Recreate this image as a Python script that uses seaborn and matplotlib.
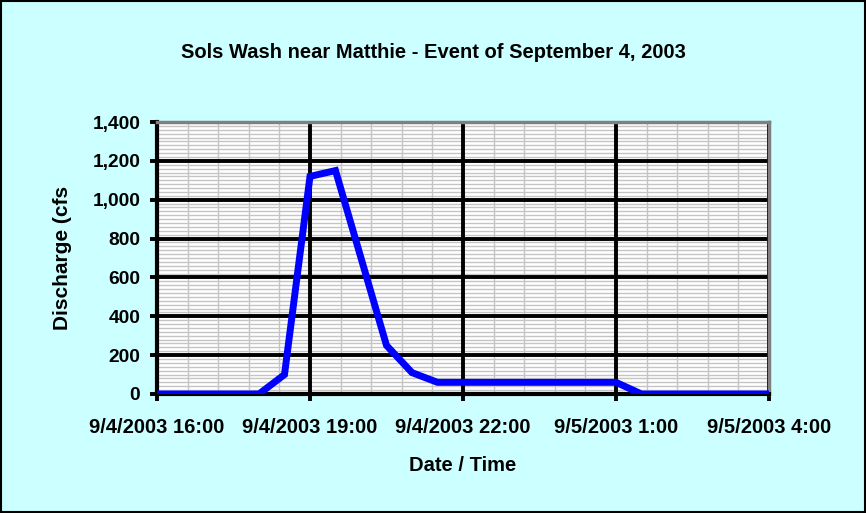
import matplotlib
matplotlib.use("Agg")
import matplotlib.pyplot as plt
import matplotlib.dates as mdates
from matplotlib.ticker import MultipleLocator, FuncFormatter, FixedLocator
from matplotlib.patches import Rectangle
import seaborn as sns
import pandas as pd

times = ["2003-09-04 16:00", "2003-09-04 16:30", "2003-09-04 17:00", "2003-09-04 17:30",
         "2003-09-04 18:00", "2003-09-04 18:30", "2003-09-04 19:00", "2003-09-04 19:30",
         "2003-09-04 20:00", "2003-09-04 20:30", "2003-09-04 21:00", "2003-09-04 21:30",
         "2003-09-04 22:00", "2003-09-04 23:00", "2003-09-05 00:00", "2003-09-05 01:00",
         "2003-09-05 01:30", "2003-09-05 02:00", "2003-09-05 03:00", "2003-09-05 04:00"]
discharge = [0, 0, 0, 0, 0, 100, 1120, 1150, 700, 250, 110, 60,
             60, 60, 60, 60, 0, 0, 0, 0]
x_ticks = ["2003-09-04 16:00", "2003-09-04 19:00", "2003-09-04 22:00",
           "2003-09-05 01:00", "2003-09-05 04:00"]

df = pd.DataFrame({"time": pd.to_datetime(times), "q": discharge})

sns.set_style("white")
plt.rcParams["font.family"] = ["Liberation Sans", "DejaVu Sans"]
plt.rcParams.update({"text.color": "black", "axes.labelcolor": "black",
                     "xtick.color": "black", "ytick.color": "black"})

fig = plt.figure(figsize=(8.66, 5.13), dpi=100)
fig.patch.set_facecolor("#CCFFFF")
fig.patches.append(Rectangle((0.001, 0.001), 0.998, 0.998, transform=fig.transFigure,
                             fill=False, edgecolor="black", linewidth=1.5))
rect = [157/866, 1-394/513, (769-157)/866, (394-122)/513]

xt = pd.to_datetime(x_ticks)
xlim = (mdates.date2num(xt[0]), mdates.date2num(xt[-1]))
minor_x = [mdates.date2num(t) for t in pd.date_range(xt[0], xt[-1], freq="36min")]

# background axes: white face + light minor grid
bg = fig.add_axes(rect, zorder=0)
bg.set_facecolor("white")
bg.set_xlim(*xlim)
bg.set_ylim(0, 1400)
bg.xaxis.set_major_locator(FixedLocator(minor_x))
bg.yaxis.set_major_locator(MultipleLocator(20))
bg.grid(True, color="#C4C4C4", linewidth=1)
bg.tick_params(which="both", length=0, labelbottom=False, labelleft=False)
for s in bg.spines.values():
    s.set_visible(False)

# main axes
ax = fig.add_axes(rect, zorder=1)
ax.set_facecolor("none")
sns.lineplot(data=df, x="time", y="q", ax=ax, color="#0000FF", linewidth=5,
             solid_joinstyle="miter", zorder=5)

ax.set_xlim(*xlim)
ax.set_ylim(0, 1400)
ax.set_xticks(xt)
ax.set_xticklabels([f"{d.month}/{d.day}/{d.year} {d.hour}:{d.minute:02d}" for d in xt])
ax.yaxis.set_major_locator(MultipleLocator(200))
ax.yaxis.set_major_formatter(FuncFormatter(lambda v, p: f"{int(v):,}"))
ax.grid(which="major", color="black", linewidth=2.8)
ax.set_axisbelow(True)

for s in ["left", "bottom"]:
    ax.spines[s].set_color("black")
    ax.spines[s].set_linewidth(3)
for s in ["top", "right"]:
    ax.spines[s].set_color("#808080")
    ax.spines[s].set_linewidth(2.5)

ax.tick_params(which="major", direction="out", length=5, width=2.8, color="black",
               left=True, bottom=True)
ax.tick_params(axis="x", labelsize=14.5, pad=12.5)
ax.tick_params(axis="y", labelsize=13.8, pad=7)
ax.tick_params(which="minor", length=0)
for lab in ax.get_xticklabels() + ax.get_yticklabels():
    lab.set_fontweight("bold")

ax.set_xlabel("Date / Time", fontsize=14.5, fontweight="bold")
ax.xaxis.set_label_coords(0.5, (394-456)/272)
ax.set_ylabel("Discharge (cfs", fontsize=15, fontweight="bold")
ax.yaxis.set_label_coords((72-157)/612, 0.5)
fig.text(433/866, 1-53/513, "Sols Wash near Matthie - Event of September 4, 2003",
         ha="center", va="center", fontsize=14.5, fontweight="bold")

fig.savefig("out.png", dpi=100, facecolor=fig.get_facecolor())
